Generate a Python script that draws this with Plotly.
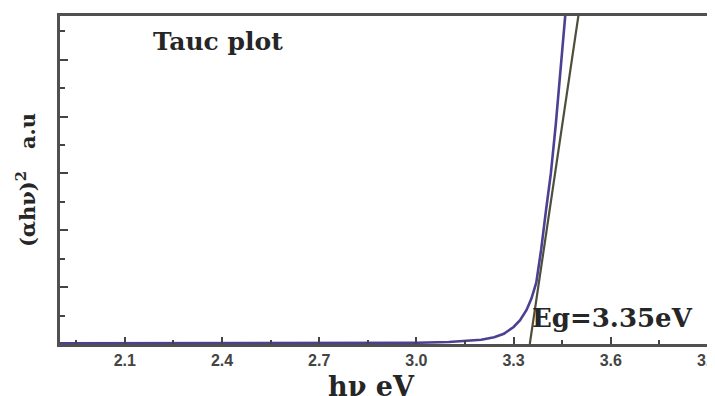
import plotly.graph_objects as go

# Tauc curve (photon energy in eV, (alpha h nu)^2 in arbitrary units)
hv_curve = [1.90, 2.30, 2.70, 3.00, 3.10, 3.15, 3.20, 3.24, 3.27, 3.30, 3.32,
            3.34, 3.355, 3.37, 3.385, 3.40, 3.415, 3.43, 3.445, 3.46, 3.475]
ahv2_curve = [0.012, 0.013, 0.016, 0.022, 0.035, 0.05, 0.075, 0.12, 0.18, 0.30, 0.42,
              0.60, 0.80, 1.08, 1.66, 2.35, 3.0, 3.85, 4.8, 5.8, 6.8]

# Linear extrapolation giving Eg
hv_fit = [3.35, 3.51]
ahv2_fit = [0.0, 6.16]

x_ticks = [2.1, 2.4, 2.7, 3.0, 3.3, 3.6, 3.9]
x_tick_labels = ["2.1", "2.4", "2.7", "3.0", "3.3", "3.6", "3.9"]

fig = go.Figure()
fig.add_trace(go.Scatter(x=hv_fit, y=ahv2_fit, mode="lines",
                         line=dict(color="#4e4e3c", width=2.2), showlegend=False))
fig.add_trace(go.Scatter(x=hv_curve, y=ahv2_curve, mode="lines",
                         line=dict(color="#4a4193", width=2.6), showlegend=False))

serif = "DejaVu Serif"
fig.add_annotation(x=0.1406, y=0.921, xref="paper", yref="paper", xanchor="left", yanchor="middle",
                   text="<b>Tauc plot</b>", showarrow=False,
                   font=dict(family=serif, size=25, color="#262626"))
fig.add_annotation(x=0.725, y=0.079, xref="paper", yref="paper", xanchor="left", yanchor="middle",
                   text="<b>Eg=3.35eV</b>", showarrow=False,
                   font=dict(family=serif, size=26, color="#262626"))
# x-axis title, placed as in the reference (slightly below the tick labels)
fig.add_annotation(x=0.481, y=-0.13, xref="paper", yref="paper", xanchor="center", yanchor="middle",
                   text="<b>hν eV</b>", showarrow=False,
                   font=dict(family=serif, size=27, color="#262626"))

# the page body adds an 8px offset, so the figure is sized to the remaining window
fig.update_layout(
    width=707, height=388,
    margin=dict(l=52, r=7, t=8, b=52),
    paper_bgcolor="white", plot_bgcolor="white",
    xaxis=dict(range=[1.9, 3.9], tickvals=x_ticks, ticktext=x_tick_labels,
               ticks="inside", ticklen=7, tickwidth=2, tickcolor="#444",
               minor=dict(ticks="inside", ticklen=4, tickwidth=2, tickcolor="#444",
                          tick0=1.95, dtick=0.3),
               showline=True, linewidth=3, linecolor="#505050", mirror=True,
               showgrid=False, zeroline=False, ticklabeloverflow="allow",
               tickfont=dict(family="Liberation Sans", size=16, color="#444", weight="bold"),
               automargin=False),
    yaxis=dict(range=[0, 5.77], dtick=1, tick0=0, showticklabels=False,
               ticks="inside", ticklen=8, tickwidth=2, tickcolor="#444",
               minor=dict(ticks="inside", ticklen=5, tickwidth=2, tickcolor="#444",
                          tick0=0.5, dtick=1),
               showline=True, linewidth=3, linecolor="#505050", mirror=True,
               showgrid=False, zeroline=False,
               title=dict(text="<b>(αhν)<sup>2</sup>   a.u</b>", standoff=16,
                          font=dict(family=serif, size=21, color="#262626")),
               automargin=False),
)

fig.write_html("out.html")
